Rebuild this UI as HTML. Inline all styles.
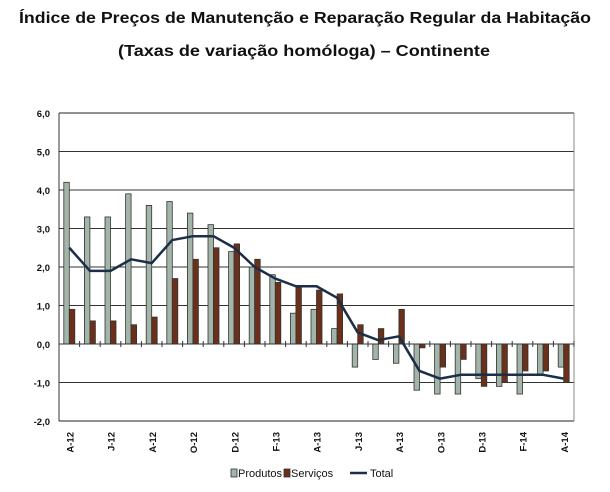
<!DOCTYPE html>
<html><head><meta charset="utf-8"><style>
html,body{margin:0;padding:0;background:#fff;}
svg{display:block;font-family:"Liberation Sans",sans-serif;}
</style></head><body>
<svg id="s" width="610" height="492" viewBox="0 0 610 492" xmlns="http://www.w3.org/2000/svg">
<text x="305" y="23" text-anchor="middle" font-size="16" font-weight="bold" textLength="572" lengthAdjust="spacingAndGlyphs" fill="#111">Índice de Preços de Manutenção e Reparação Regular da Habitação</text>
<text x="304" y="56" text-anchor="middle" font-size="16" font-weight="bold" textLength="372" lengthAdjust="spacingAndGlyphs" fill="#111">(Taxas de variação homóloga) – Continente</text>
<g id="grid" stroke="#222" stroke-width="1"></g>
<g font-size="9.5" font-weight="bold" text-anchor="end" fill="#111">
<text x="50" y="117">6,0</text><text x="50" y="155.5">5,0</text><text x="50" y="194">4,0</text><text x="50" y="232.5">3,0</text><text x="50" y="271">2,0</text><text x="50" y="309.5">1,0</text><text x="50" y="348">0,0</text><text x="50" y="386.5">-1,0</text><text x="50" y="425">-2,0</text>
</g>
<g id="bars"></g>
<g font-size="9.5" font-weight="bold" text-anchor="end" fill="#111" id="xl">
<text transform="translate(73.5,432) rotate(-90)">A-12</text>
<text transform="translate(114.7,432) rotate(-90)">J-12</text>
<text transform="translate(155.9,432) rotate(-90)">A-12</text>
<text transform="translate(197.1,432) rotate(-90)">O-12</text>
<text transform="translate(238.3,432) rotate(-90)">D-12</text>
<text transform="translate(279.5,432) rotate(-90)">F-13</text>
<text transform="translate(320.7,432) rotate(-90)">A-13</text>
<text transform="translate(361.9,432) rotate(-90)">J-13</text>
<text transform="translate(403.1,432) rotate(-90)">A-13</text>
<text transform="translate(444.3,432) rotate(-90)">O-13</text>
<text transform="translate(485.5,432) rotate(-90)">D-13</text>
<text transform="translate(526.7,432) rotate(-90)">F-14</text>
<text transform="translate(567.9,432) rotate(-90)">A-14</text>
</g>
<g font-size="11" fill="#111">
<rect x="231" y="469" width="6" height="8" fill="#a3b5a8" stroke="#333" stroke-width="0.8"/>
<text x="238" y="477">Produtos</text>
<rect x="284" y="469" width="6" height="8" fill="#6b2f1a" stroke="#333" stroke-width="0.8"/>
<text x="291" y="477">Serviços</text>
<line x1="350" y1="473" x2="367" y2="473" stroke="#1b2f48" stroke-width="2.5"/>
<text x="370" y="477">Total</text>
</g>
</svg>
<script>
var NS="http://www.w3.org/2000/svg";
function el(p,n,a){var e=document.createElementNS(NS,n);for(var k in a)e.setAttribute(k,a[k]);p.appendChild(e);return e;}
var g=document.getElementById('grid'),b=document.getElementById('bars');
function Y(v){return 344-38.5*v;}
for(var v=6;v>=-2;v--){if(v!=0)el(g,'line',{x1:59,x2:574,y1:Y(v),y2:Y(v),stroke:v==6||v==-2?'#222':'#333'});}
el(g,'line',{x1:59,x2:59,y1:113,y2:421,stroke:'#333'});
el(g,'line',{x1:574,x2:574,y1:113,y2:421,stroke:'#888'});
var P=[4.2,3.3,3.3,3.9,3.6,3.7,3.4,3.1,2.4,2.0,1.8,0.8,0.9,0.4,-0.6,-0.4,-0.5,-1.2,-1.3,-1.3,-0.9,-1.1,-1.3,-0.8,-0.6];
var S=[0.9,0.6,0.6,0.5,0.7,1.7,2.2,2.5,2.6,2.2,1.6,1.5,1.4,1.3,0.5,0.4,0.9,-0.1,-0.6,-0.4,-1.1,-1.0,-0.7,-0.7,-1.0];
var T=[2.5,1.9,1.9,2.2,2.1,2.7,2.8,2.8,2.5,2.0,1.7,1.5,1.5,1.2,0.3,0.1,0.2,-0.7,-0.9,-0.8,-0.8,-0.8,-0.8,-0.8,-0.9];
var w=515/25,pts=[];
for(var i=0;i<25;i++){var c=59+w*(i+0.5);
 var y1=Y(P[i]);el(b,'rect',{x:c-5.5,y:Math.min(y1,344),width:5.5,height:Math.abs(344-y1),fill:'#a3b5a8',stroke:'#333','stroke-width':0.8});
 var y2=Y(S[i]);el(b,'rect',{x:c,y:Math.min(y2,344),width:5.5,height:Math.abs(344-y2),fill:'#6b2f1a',stroke:'#333','stroke-width':0.8});
 pts.push(c+','+Y(T[i]));}
el(b,'line',{x1:59,x2:574,y1:344,y2:344,stroke:'#333'});
for(var i=0;i<=25;i++){var x=59+w*i;el(b,'line',{x1:x,x2:x,y1:341,y2:347,stroke:'#333'});}
el(b,'polyline',{points:pts.join(' '),fill:'none',stroke:'#1b2f48','stroke-width':2.5,'stroke-linejoin':'round'});
</script>
</body></html>
